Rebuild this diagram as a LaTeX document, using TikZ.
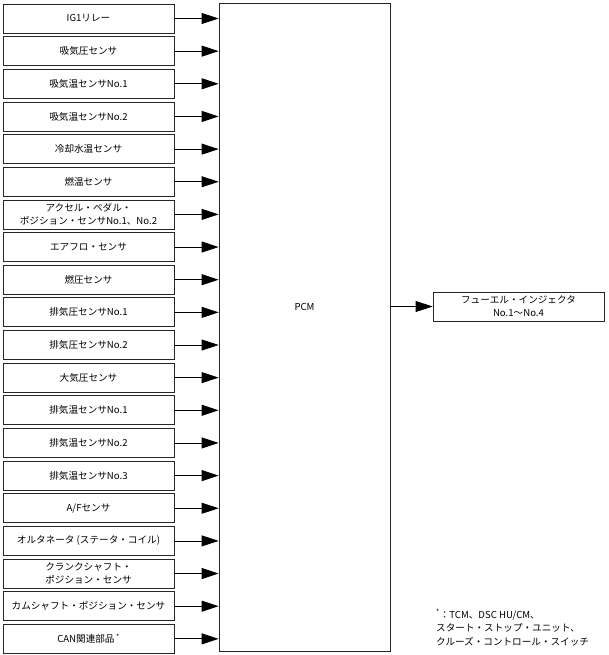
\documentclass[tikz,border=0pt]{standalone}
\usepackage{fontspec}
\setmainfont{Noto Sans CJK JP}
\usetikzlibrary{arrows.meta,positioning}
\tikzset{s/.style={draw=black!85,line width=0.8pt,minimum width=171pt,minimum height=29pt,align=center,inner sep=1pt,font=\fontsize{9.6}{13}\selectfont},arr/.style={-{Triangle[length=17pt,width=11pt]},line width=0.8pt}}

\begin{document}
\begin{tikzpicture}[x=1pt,y=-1pt,node distance=2.85pt]
\useasboundingbox(0,0)rectangle(608,655);
\node[s](s1)at(88.5,18.5){IG1リレー};
\node[s,below=of s1](s2){吸気圧センサ};
\node[s,below=of s2](s3){吸気温センサNo.1};
\node[s,below=of s3](s4){吸気温センサNo.2};
\node[s,below=of s4](s5){冷却水温センサ};
\node[s,below=of s5](s6){燃温センサ};
\node[s,below=of s6](s7){アクセル・ペダル・\\ポジション・センサNo.1、No.2};
\node[s,below=of s7](s8){エアフロ・センサ};
\node[s,below=of s8](s9){燃圧センサ};
\node[s,below=of s9](s10){排気圧センサNo.1};
\node[s,below=of s10](s11){排気圧センサNo.2};
\node[s,below=of s11](s12){大気圧センサ};
\node[s,below=of s12](s13){排気温センサNo.1};
\node[s,below=of s13](s14){排気温センサNo.2};
\node[s,below=of s14](s15){排気温センサNo.3};
\node[s,below=of s15](s16){A/Fセンサ};
\node[s,below=of s16](s17){オルタネータ (ステータ・コイル)};
\node[s,below=of s17](s18){クランクシャフト・\\ポジション・センサ};
\node[s,below=of s18](s19){カムシャフト・ポジション・センサ};
\node[s,below=of s19](s20){CAN関連部品\textsuperscript{ *}};
% PCM
\node[s,minimum height=648pt](pcm)at(304.5,327){};
\node[s](inj)at(518.5,306.5){フューエル・インジェクタ\\No.1〜No.4};
\node[font=\fontsize{9.6}{13}\selectfont](pcmlbl)at(pcm.center|-inj){PCM};
\draw[arr](s1)--(s1-|pcm.west);\draw[arr](s2)--(s2-|pcm.west);\draw[arr](s3)--(s3-|pcm.west);\draw[arr](s4)--(s4-|pcm.west);
\draw[arr](s5)--(s5-|pcm.west);\draw[arr](s6)--(s6-|pcm.west);\draw[arr](s7)--(s7-|pcm.west);\draw[arr](s8)--(s8-|pcm.west);
\draw[arr](s9)--(s9-|pcm.west);\draw[arr](s10)--(s10-|pcm.west);\draw[arr](s11)--(s11-|pcm.west);\draw[arr](s12)--(s12-|pcm.west);
\draw[arr](s13)--(s13-|pcm.west);\draw[arr](s14)--(s14-|pcm.west);\draw[arr](s15)--(s15-|pcm.west);\draw[arr](s16)--(s16-|pcm.west);
\draw[arr](s17)--(s17-|pcm.west);\draw[arr](s18)--(s18-|pcm.west);\draw[arr](s19)--(s19-|pcm.west);\draw[arr](s20)--(s20-|pcm.west);
\draw[arr](inj-|pcm.east)--(inj);
% note
\node[anchor=north west,align=left,inner sep=0pt,font=\fontsize{9.6}{13.5}\selectfont](note)at(436,609){\textsuperscript{*}：TCM、DSC HU/CM、\\スタート・ストップ・ユニット、\\クルーズ・コントロール・スイッチ};
\end{tikzpicture}
\end{document}
